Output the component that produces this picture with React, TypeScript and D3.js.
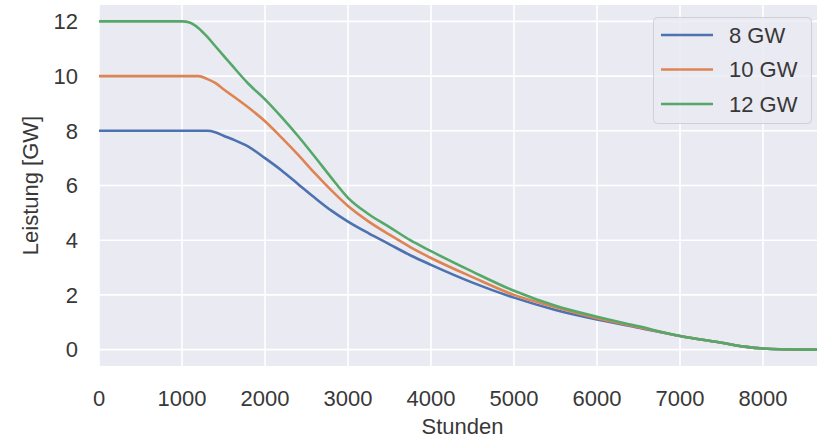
import React, { useRef, useEffect } from 'react';
import * as d3 from 'd3';

// Stunden (x values shared by all series)
const hours = [0, 500, 1000, 1100, 1200, 1300, 1400, 1500, 1600, 1800, 2000, 2200, 2400, 2600, 2800, 3000, 3250, 3500, 3750, 4000, 4500, 5000, 5500, 6000, 6500, 7000, 7500, 7800, 8000, 8200, 8500, 8760];

const gw8 = [8, 8, 8, 8, 8, 8, 7.95, 7.82, 7.7, 7.42, 7.0, 6.55, 6.05, 5.55, 5.08, 4.68, 4.25, 3.85, 3.45, 3.1, 2.45, 1.9, 1.45, 1.1, 0.8, 0.5, 0.25, 0.1, 0.04, 0.01, 0, 0];
const gw10 = [10, 10, 10, 10, 10, 9.9, 9.75, 9.52, 9.3, 8.85, 8.35, 7.75, 7.12, 6.45, 5.82, 5.25, 4.68, 4.2, 3.75, 3.35, 2.65, 2.0, 1.55, 1.15, 0.82, 0.5, 0.25, 0.1, 0.04, 0.01, 0, 0];
const gw12 = [12, 12, 12, 11.95, 11.75, 11.45, 11.1, 10.75, 10.4, 9.72, 9.15, 8.5, 7.8, 7.05, 6.28, 5.55, 4.95, 4.48, 4.0, 3.6, 2.85, 2.15, 1.6, 1.2, 0.85, 0.5, 0.25, 0.1, 0.04, 0.01, 0, 0];

const seriesNames = ['8 GW', '10 GW', '12 GW'];
const seriesColors = ['#4c72b0', '#dd8452', '#55a868'];
const xTicks = [0, 1000, 2000, 3000, 4000, 5000, 6000, 7000, 8000];
const yTicks = [0, 2, 4, 6, 8, 10, 12];

const width = 817;
const height = 439;
const font = '"Liberation Sans", Arial, Helvetica, sans-serif';

const App: React.FC = () => {
  const svgRef = useRef<SVGSVGElement>(null);

  useEffect(() => {
    const svg = d3.select(svgRef.current);
    svg.selectAll('*').remove();

    const plot = { left: 99, top: 5, bottom: 366 };

    const xScale = d3.scaleLinear()
      .domain([0, 8760])
      .range([plot.left, plot.left + 8.76 * 83]);

    const yScale = d3.scaleLinear()
      .domain([-0.6, 12.6])
      .range([plot.bottom, plot.top]);

    // background
    svg.append('rect')
      .attr('x', plot.left)
      .attr('y', plot.top)
      .attr('width', xScale(8760) - plot.left)
      .attr('height', plot.bottom - plot.top)
      .attr('fill', '#eaeaf2');

    // grid
    svg.append('g')
      .selectAll('line')
      .data(xTicks)
      .enter()
      .append('line')
      .attr('x1', d => xScale(d))
      .attr('x2', d => xScale(d))
      .attr('y1', plot.top)
      .attr('y2', plot.bottom)
      .attr('stroke', '#fff')
      .attr('stroke-width', 1.6);

    svg.append('g')
      .selectAll('line')
      .data(yTicks)
      .enter()
      .append('line')
      .attr('x1', plot.left)
      .attr('x2', xScale(8760))
      .attr('y1', d => yScale(d))
      .attr('y2', d => yScale(d))
      .attr('stroke', '#fff')
      .attr('stroke-width', 1.6);

    // tick labels
    svg.append('g')
      .selectAll('text')
      .data(xTicks)
      .enter()
      .append('text')
      .attr('x', d => xScale(d))
      .attr('y', 406)
      .attr('text-anchor', 'middle')
      .style('font-family', font)
      .style('font-size', '22px')
      .style('fill', '#383838')
      .text(d => String(d));

    svg.append('g')
      .selectAll('text')
      .data(yTicks)
      .enter()
      .append('text')
      .attr('x', 78)
      .attr('y', d => yScale(d))
      .attr('dy', '0.35em')
      .attr('text-anchor', 'end')
      .style('font-family', font)
      .style('font-size', '22px')
      .style('fill', '#383838')
      .text(d => String(d));

    // axis labels
    svg.append('text')
      .attr('x', (plot.left + 826) / 2)
      .attr('y', 434)
      .attr('text-anchor', 'middle')
      .style('font-family', font)
      .style('font-size', '22px')
      .style('fill', '#383838')
      .text('Stunden');

    svg.append('text')
      .attr('transform', 'rotate(-90)')
      .attr('x', -(plot.top + plot.bottom) / 2)
      .attr('y', 38)
      .attr('text-anchor', 'middle')
      .style('font-family', font)
      .style('font-size', '22px')
      .style('fill', '#383838')
      .text('Leistung [GW]');

    // lines
    const allSeries = [gw8, gw10, gw12];
    const line = d3.line<number>()
      .x((_, i) => xScale(hours[i]))
      .y(d => yScale(d))
      .curve(d3.curveMonotoneX);

    allSeries.forEach((values, i) => {
      svg.append('path')
        .datum(values)
        .attr('fill', 'none')
        .attr('stroke', seriesColors[i])
        .attr('stroke-width', 2.6)
        .attr('d', line);
    });

    // legend
    const legend = svg.append('g');
    legend.append('rect')
      .attr('x', 653.5)
      .attr('y', 17.5)
      .attr('width', 158)
      .attr('height', 106)
      .attr('rx', 4)
      .attr('fill', '#eaeaf2')
      .attr('fill-opacity', 0.8)
      .attr('stroke', '#cfcfd6')
      .attr('stroke-width', 1);

    seriesNames.forEach((name, i) => {
      const yy = 35 + i * 34.5;
      legend.append('line')
        .attr('x1', 661)
        .attr('x2', 713)
        .attr('y1', yy)
        .attr('y2', yy)
        .attr('stroke', seriesColors[i])
        .attr('stroke-width', 2.6);
      legend.append('text')
        .attr('x', 729)
        .attr('y', yy)
        .attr('dy', '0.35em')
        .style('font-family', font)
        .style('font-size', '22px')
        .style('fill', '#383838')
        .text(name);
    });
  }, []);

  return (
    <svg
      ref={svgRef}
      width={width}
      height={height}
      style={{ position: 'absolute', left: 0, top: 0, background: '#fff' }}
    />
  );
};

export default App;
